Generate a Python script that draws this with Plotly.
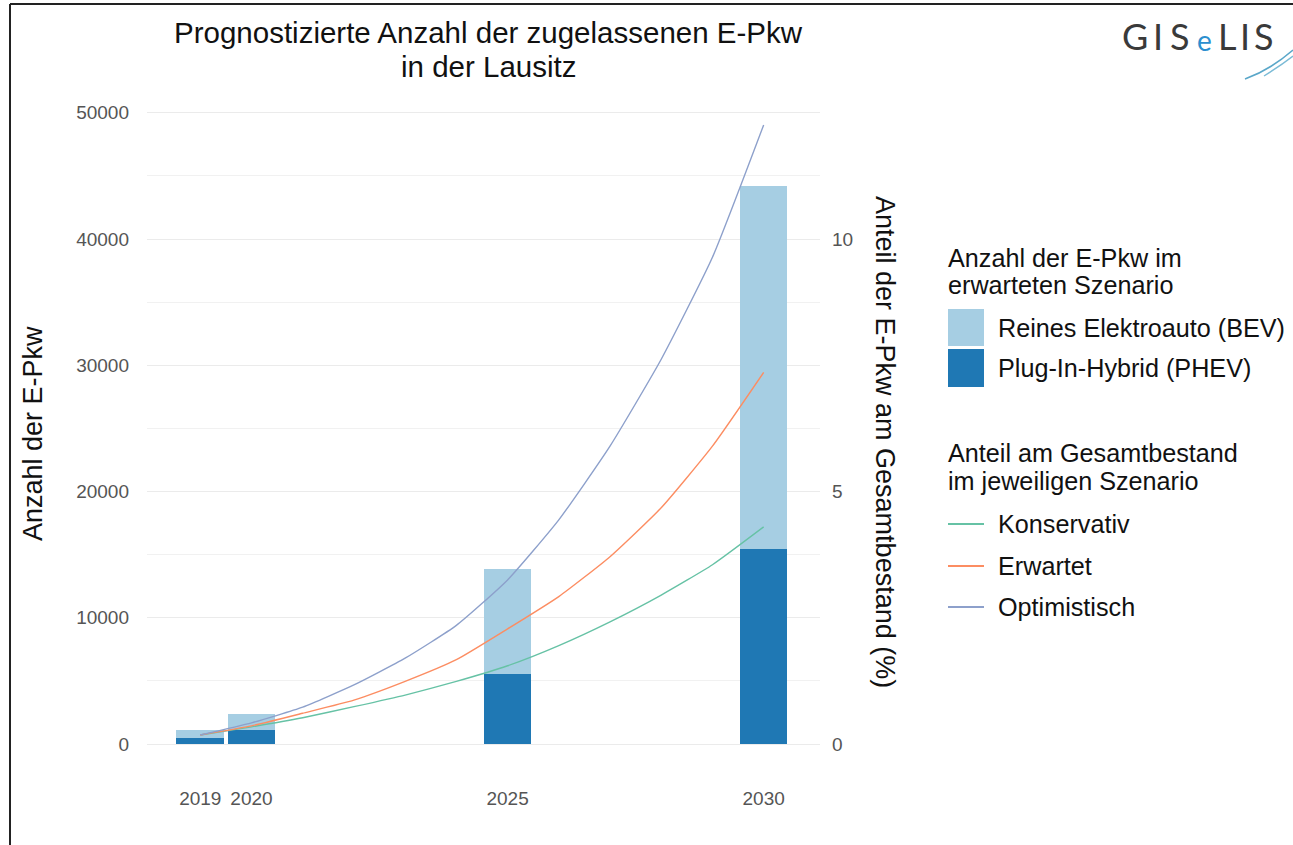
import plotly.graph_objects as go

# ---------------- data ----------------
bar_years = [2019, 2020, 2025, 2030]
phev = [500, 1100, 5550, 15450]
bev = [600, 1300, 8350, 28750]

line_years = [2019, 2020, 2021, 2022, 2023, 2024, 2025, 2026, 2027, 2028, 2029, 2030]
konservativ = [0.18, 0.34, 0.52, 0.74, 0.97, 1.24, 1.55, 1.95, 2.42, 2.95, 3.55, 4.30]
erwartet = [0.18, 0.36, 0.61, 0.87, 1.24, 1.67, 2.28, 2.92, 3.71, 4.68, 5.90, 7.36]
optimistisch = [0.18, 0.42, 0.73, 1.17, 1.70, 2.35, 3.25, 4.44, 5.90, 7.62, 9.64, 12.26]

x_ticks = [2019, 2020, 2025, 2030]
y_ticks = [0, 10000, 20000, 30000, 40000, 50000]
y2_ticks = [0, 5, 10]

title_l1 = "Prognostizierte Anzahl der zugelassenen E-Pkw"
title_l2 = "in der Lausitz"
ytitle = "Anzahl der E-Pkw"
y2title = "Anteil der E-Pkw am Gesamtbestand (%)"
leg1_title = ["Anzahl der E-Pkw im", "erwarteten Szenario"]
leg1_items = ["Reines Elektroauto (BEV)", "Plug-In-Hybrid (PHEV)"]
leg2_title = ["Anteil am Gesamtbestand", "im jeweiligen Szenario"]
leg2_items = ["Konservativ", "Erwartet", "Optimistisch"]

C_BEV = "#a6cee3"
C_PHEV = "#1f78b4"
C_K = "#66c2a5"
C_E = "#fc8d62"
C_O = "#8da0cb"

FONT = "Liberation Sans, Arial, sans-serif"

# ---------------- geometry ----------------
W_PAGE, H_PAGE = 1293, 845
L, R, T, B = 147, 820, 94, 775
PW, PH = R - L, B - T


def px(x):
    return (x - L) / PW


def py(y):
    return (B - y) / PH


fig = go.Figure()

fig.add_trace(go.Bar(x=bar_years, y=phev, marker=dict(color=C_PHEV, line=dict(width=0)),
                     width=0.93, showlegend=False, name=leg1_items[1]))
fig.add_trace(go.Bar(x=bar_years, y=bev, marker=dict(color=C_BEV, line=dict(width=0)),
                     width=0.93, showlegend=False, name=leg1_items[0]))

for vals, col, nm in [(konservativ, C_K, leg2_items[0]),
                      (erwartet, C_E, leg2_items[1]),
                      (optimistisch, C_O, leg2_items[2])]:
    fig.add_trace(go.Scatter(x=line_years, y=vals, mode="lines", yaxis="y2",
                             line=dict(color=col, width=1.4, shape="spline", smoothing=0.5),
                             showlegend=False, name=nm))

y_lo, y_hi = -2452, 51492

annotations = []
shapes = []

TITLE_FONT = dict(size=29.5, color="#111", family=FONT)
annotations.append(dict(x=px(488), y=py(33), xref="paper", yref="paper", text=title_l1,
                        showarrow=False, xanchor="center", yanchor="middle", font=TITLE_FONT))
annotations.append(dict(x=px(488), y=py(67), xref="paper", yref="paper", text=title_l2,
                        showarrow=False, xanchor="center", yanchor="middle", font=TITLE_FONT))
AX_FONT = dict(size=27, color="#111", family=FONT)
annotations.append(dict(x=px(33), y=py(434), xref="paper", yref="paper", text=ytitle,
                        showarrow=False, textangle=-90, xanchor="center", yanchor="middle",
                        font=AX_FONT))
annotations.append(dict(x=px(885), y=py(442), xref="paper", yref="paper", text=y2title,
                        showarrow=False, textangle=90, xanchor="center", yanchor="middle",
                        font=AX_FONT))

# legend
LEG_FONT = dict(size=25.2, color="#111", family=FONT)
for txt, yy in zip(leg1_title, [258, 285]):
    annotations.append(dict(x=px(946), y=py(yy), xref="paper", yref="paper", text=txt,
                            showarrow=False, xanchor="left", yanchor="middle", font=LEG_FONT))
for txt, col, (y0, y1) in zip(leg1_items, [C_BEV, C_PHEV], [(309, 346), (349, 387)]):
    shapes.append(dict(type="rect", xref="paper", yref="paper", x0=px(948), x1=px(984),
                       y0=py(y1), y1=py(y0), fillcolor=col, line=dict(width=0)))
    annotations.append(dict(x=px(996), y=py((y0 + y1) / 2), xref="paper", yref="paper", text=txt,
                            showarrow=False, xanchor="left", yanchor="middle", font=LEG_FONT))
for txt, yy in zip(leg2_title, [453, 481]):
    annotations.append(dict(x=px(946), y=py(yy), xref="paper", yref="paper", text=txt,
                            showarrow=False, xanchor="left", yanchor="middle", font=LEG_FONT))
for txt, col, yy in zip(leg2_items, [C_K, C_E, C_O], [524, 566, 607]):
    shapes.append(dict(type="line", xref="paper", yref="paper", x0=px(948), x1=px(984),
                       y0=py(yy), y1=py(yy), line=dict(color=col, width=1.8)))
    annotations.append(dict(x=px(996), y=py(yy), xref="paper", yref="paper", text=txt,
                            showarrow=False, xanchor="left", yanchor="middle", font=LEG_FONT))

# logo
logo_letters = [("G", 1135, "#3a3a3a", 36), ("I", 1158, "#3a3a3a", 36), ("S", 1180, "#3a3a3a", 36),
                ("e", 1204, "#2b8fcf", 28), ("L", 1227, "#3a3a3a", 36), ("I", 1245, "#3a3a3a", 36),
                ("S", 1264, "#3a3a3a", 36)]
for ch, xx, col, sz in logo_letters:
    annotations.append(dict(x=px(xx), y=py(36 if ch != "e" else 40), xref="paper", yref="paper",
                            text=ch, showarrow=False, xanchor="center", yanchor="middle",
                            font=dict(size=sz, color=col, family="Lato, " + FONT)))
shapes.append(dict(type="path", xref="paper", yref="paper",
                   path=f"M {px(1245)},{py(79)} Q {px(1270)},{py(70)} {px(1293)},{py(50)}",
                   line=dict(color="#5aa7c9", width=1.6)))
shapes.append(dict(type="path", xref="paper", yref="paper",
                   path=f"M {px(1264)},{py(76)} Q {px(1280)},{py(66)} {px(1293)},{py(56)}",
                   line=dict(color="#7bbbd6", width=1.4)))

# page border (left & top)
shapes.append(dict(type="line", xref="paper", yref="paper", x0=px(10), x1=px(10),
                   y0=py(4), y1=py(H_PAGE + 5), line=dict(color="#222", width=2)))
shapes.append(dict(type="line", xref="paper", yref="paper", x0=px(10), x1=px(W_PAGE + 5),
                   y0=py(4), y1=py(4), line=dict(color="#222", width=2)))

fig.update_layout(
    width=W_PAGE, height=H_PAGE,
    margin=dict(l=L, r=W_PAGE - R, t=T, b=H_PAGE - B, pad=0),
    paper_bgcolor="white", plot_bgcolor="white",
    barmode="stack", bargap=0,
    showlegend=False,
    font=dict(family=FONT),
    xaxis=dict(range=[2017.96, 2031.1], tickvals=x_ticks, ticktext=[str(v) for v in x_ticks],
               showgrid=False, zeroline=False, showline=False, ticks="",
               tickfont=dict(size=19, color="#555", family=FONT), ticklabelstandoff=10,
               automargin=False, fixedrange=True),
    yaxis=dict(range=[y_lo, y_hi], tickvals=y_ticks, ticktext=[str(v) for v in y_ticks],
               showgrid=True, gridcolor="#ebebeb", gridwidth=1.2, zeroline=False, showline=False,
               ticks="", tickfont=dict(size=19, color="#555", family=FONT), ticklabelstandoff=17,
               minor=dict(dtick=5000, tick0=0, showgrid=True, gridcolor="#f1f1f1", gridwidth=1),
               automargin=False, fixedrange=True),
    yaxis2=dict(range=[y_lo / 4000, y_hi / 4000], tickvals=y2_ticks,
                ticktext=[str(v) for v in y2_ticks], overlaying="y", side="right",
                showgrid=False, zeroline=False, showline=False, ticks="",
                tickfont=dict(size=19, color="#555", family=FONT), ticklabelstandoff=11,
                automargin=False, fixedrange=True),
    annotations=annotations,
    shapes=shapes,
)

fig.write_html("out.html", config={"displayModeBar": False},
               post_script="document.body.style.margin='0';document.body.style.overflow='hidden';")
